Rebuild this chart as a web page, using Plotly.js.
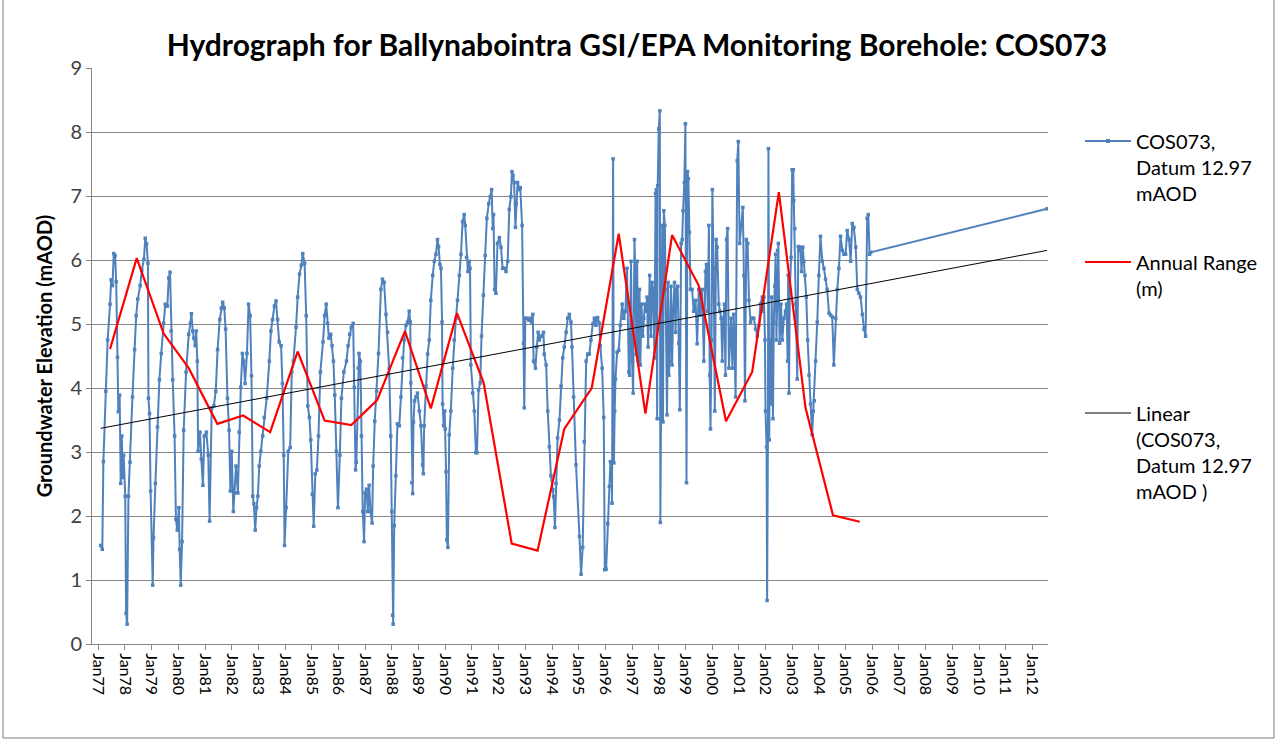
<!DOCTYPE html>
<html>
<head>
<meta charset="utf-8">
<script src="https://cdn.plot.ly/plotly-3.0.1.min.js"></script>
<style>
  html, body { margin: 0; padding: 0; background: #ffffff; }
  #chart { width: 1279px; height: 742px; }
</style>
</head>
<body>
<div id="chart"></div>
<script>
// ---------------- DATA (decimal year, groundwater level mAOD) ----------------
const obs1977to1987 = [
  [1977.09,1.54],[1977.15,1.48],[1977.19,2.85],[1977.28,3.95],[1977.35,4.75],[1977.44,5.31],[1977.48,5.69],[1977.53,5.60],
  [1977.58,6.10],[1977.63,6.07],[1977.67,5.66],[1977.72,4.48],[1977.75,3.63],[1977.80,3.89],[1977.84,2.51],[1977.88,3.25],
  [1977.92,2.60],[1977.95,2.95],[1978.01,2.31],[1978.04,0.48],[1978.08,0.31],[1978.13,2.31],[1978.19,2.84],[1978.28,3.86],
  [1978.36,4.60],[1978.42,5.13],[1978.48,5.39],[1978.57,5.60],[1978.63,5.84],[1978.71,6.01],[1978.76,6.34],[1978.81,6.25],
  [1978.86,5.95],[1978.88,3.84],[1978.92,3.60],[1978.96,2.39],[1979.04,0.92],[1979.07,1.66],[1979.14,2.51],[1979.22,3.39],
  [1979.29,4.13],[1979.36,4.54],[1979.45,5.01],[1979.51,5.31],[1979.59,5.28],[1979.64,5.72],[1979.69,5.81],[1979.73,4.89],
  [1979.79,4.13],[1979.86,3.25],[1979.91,1.95],[1979.96,1.78],[1980.02,2.13],[1980.05,1.48],[1980.09,0.92],[1980.14,1.60],
  [1980.20,3.34],[1980.29,4.25],[1980.39,4.84],[1980.45,5.01],[1980.49,5.16],[1980.54,4.89],[1980.58,4.78],[1980.63,4.66],
  [1980.67,4.89],[1980.71,4.42],[1980.74,3.01],[1980.81,3.31],[1980.86,2.89],[1980.92,2.48],[1980.97,3.25],[1981.05,3.31],
  [1981.12,2.95],[1981.17,1.92],[1981.25,3.69],[1981.33,3.72],[1981.40,3.95],[1981.47,4.60],[1981.55,5.07],[1981.61,5.25],
  [1981.66,5.34],[1981.72,5.25],[1981.77,4.92],[1981.84,3.84],[1981.90,3.34],[1981.95,2.39],[1982.00,3.01],[1982.06,2.07],
  [1982.11,2.36],[1982.16,2.78],[1982.23,2.36],[1982.28,3.31],[1982.34,4.01],[1982.40,4.54],[1982.45,4.42],[1982.50,4.07],
  [1982.57,4.54],[1982.63,5.31],[1982.69,5.13],[1982.74,4.19],[1982.79,2.31],[1982.83,2.19],[1982.88,1.78],[1982.93,2.13],
  [1982.98,2.31],[1983.03,2.78],[1983.09,3.01],[1983.16,3.25],[1983.22,3.54],[1983.31,3.84],[1983.41,4.42],[1983.47,4.89],
  [1983.53,5.07],[1983.60,5.28],[1983.66,5.36],[1983.72,5.07],[1983.78,4.72],[1983.85,4.66],[1983.90,4.07],[1983.95,2.95],
  [1983.98,1.54],[1984.04,2.13],[1984.12,3.01],[1984.19,3.07],[1984.25,4.25],[1984.31,4.42],[1984.41,4.95],[1984.47,5.42],
  [1984.54,5.78],[1984.61,5.92],[1984.66,6.10],[1984.73,5.95],[1984.79,5.13],[1984.85,3.72],[1984.91,3.54],[1984.96,3.19],
  [1985.02,2.34],[1985.07,1.84],[1985.13,2.66],[1985.19,2.72],[1985.25,3.25],[1985.32,4.25],[1985.42,4.72],[1985.48,5.13],
  [1985.54,5.31],[1985.59,5.01],[1985.64,4.78],[1985.71,4.84],[1985.76,4.66],[1985.81,4.42],[1985.86,3.89],[1985.92,3.01],
  [1985.98,2.13],[1986.05,2.95],[1986.11,3.84],[1986.20,4.25],[1986.30,4.42],[1986.36,4.66],[1986.42,4.84],[1986.48,4.95],
  [1986.55,5.01],[1986.59,4.01],[1986.64,2.72],[1986.67,2.84],[1986.74,4.31],[1986.77,4.54],[1986.82,4.42],[1986.86,3.25],
  [1986.91,2.07],[1986.96,1.60],[1987.00,2.36],[1987.05,2.42],[1987.10,2.07],[1987.15,2.48],[1987.20,2.07],[1987.26,1.89],
  [1987.30,2.78],[1987.36,3.48],[1987.43,3.95],[1987.50,4.54]
];
const obs1987to1995 = [
  [1987.59,5.54],[1987.65,5.70],[1987.71,5.65],[1987.78,5.15],[1987.84,4.87],[1987.90,4.31],[1987.96,3.25],[1988.00,2.07],
  [1988.03,0.45],[1988.05,0.31],[1988.09,1.85],[1988.15,2.63],[1988.21,3.44],[1988.28,3.41],[1988.34,3.86],[1988.40,4.47],
  [1988.46,4.75],[1988.53,4.98],[1988.59,5.03],[1988.65,5.20],[1988.69,5.03],[1988.71,4.08],[1988.75,2.52],[1988.78,2.35],
  [1988.81,3.47],[1988.85,3.80],[1988.90,3.86],[1988.96,3.92],[1989.03,3.64],[1989.09,3.41],[1989.15,2.80],[1989.18,2.66],
  [1989.21,3.41],[1989.28,4.03],[1989.34,4.53],[1989.40,4.75],[1989.46,5.37],[1989.53,5.76],[1989.59,5.98],[1989.65,6.09],
  [1989.71,6.32],[1989.75,6.21],[1989.80,5.93],[1989.84,5.87],[1989.88,5.03],[1989.90,3.75],[1989.94,3.41],[1989.98,3.64],
  [1990.00,3.36],[1990.03,2.69],[1990.06,1.63],[1990.10,1.51],[1990.15,3.27],[1990.21,3.64],[1990.28,4.31],[1990.34,4.75],
  [1990.40,5.09],[1990.46,5.37],[1990.53,5.76],[1990.59,6.09],[1990.65,6.60],[1990.71,6.71],[1990.75,6.54],[1990.80,6.04],
  [1990.85,5.82],[1990.90,5.98],[1990.93,5.87],[1990.96,4.36],[1991.03,3.92],[1991.09,3.64],[1991.15,2.99],[1991.19,2.99],
  [1991.25,3.97],[1991.31,4.08],[1991.36,4.81],[1991.43,5.45],[1991.50,6.07],[1991.56,6.65],[1991.63,6.88],[1991.69,6.99],
  [1991.74,7.10],[1991.78,6.49],[1991.81,6.71],[1991.85,5.54],[1991.90,5.48],[1991.96,6.26],[1992.03,6.35],[1992.09,6.20],
  [1992.15,5.87],[1992.21,5.87],[1992.28,5.82],[1992.34,5.98],[1992.40,6.79],[1992.46,6.99],[1992.50,7.38],[1992.54,7.32],
  [1992.58,7.21],[1992.63,6.51],[1992.66,6.88],[1992.71,7.21],[1992.78,7.10],[1992.81,7.13],[1992.88,6.54],[1992.93,4.70],
  [1992.96,3.69],[1993.00,5.09],[1993.06,5.09],[1993.13,5.06],[1993.18,5.09],[1993.23,5.03],[1993.28,5.15],[1993.31,4.42],
  [1993.38,4.31],[1993.43,4.64],[1993.48,4.87],[1993.53,4.75],[1993.58,4.81],[1993.63,4.81],[1993.68,4.87],[1993.71,4.53],
  [1993.78,4.36],[1993.84,3.64],[1993.90,3.08],[1993.96,2.63],[1994.03,2.41],[1994.06,2.30],[1994.11,1.82],[1994.15,2.51],
  [1994.21,3.22],[1994.28,3.50],[1994.34,4.03],[1994.40,4.47],[1994.46,4.64],[1994.53,4.87],[1994.59,5.09],[1994.65,5.15],
  [1994.71,5.03],[1994.75,4.64],[1994.81,3.86],[1994.90,2.80],[1995.03,1.68],[1995.09,1.09],[1995.15,1.51],[1995.21,3.16],
  [1995.28,4.42],[1995.34,4.53],[1995.40,4.53],[1995.46,4.75],[1995.53,5.00],[1995.59,5.09],[1995.65,4.98],[1995.71,5.10],
  [1995.78,5.01],[1995.81,4.66],[1995.88,4.31],[1995.94,3.54],[1995.98,1.16]
];
const obs1996to2000 = [
  [1996.03,1.17],[1996.09,1.88],[1996.15,2.46],[1996.19,2.85],[1996.23,2.83],[1996.25,2.20],[1996.29,7.58],[1996.32,2.83],
  [1996.35,3.64],[1996.38,4.14],[1996.44,4.56],[1996.50,4.59],[1996.56,4.98],[1996.63,5.31],[1996.69,5.09],[1996.75,5.20],
  [1996.81,5.87],[1996.88,4.25],[1996.91,4.20],[1996.96,5.98],[1997.00,4.42],[1997.04,3.92],[1997.09,6.32],[1997.13,5.59],
  [1997.16,4.53],[1997.19,5.98],[1997.23,4.42],[1997.28,5.54],[1997.31,4.36],[1997.35,5.31],[1997.40,4.81],[1997.44,5.09],
  [1997.48,5.31],[1997.53,5.20],[1997.56,5.42],[1997.60,4.64],[1997.66,5.76],[1997.71,4.81],[1997.75,5.65],[1997.79,5.54],
  [1997.84,4.47],[1997.88,7.04],[1997.91,7.10],[1997.94,3.52],[1997.96,7.16],[1998.00,8.05],[1998.04,8.33],[1998.06,1.90],
  [1998.09,3.52],[1998.13,6.54],[1998.16,3.47],[1998.19,6.77],[1998.23,6.54],[1998.26,5.54],[1998.31,3.58],[1998.35,5.65],
  [1998.38,4.20],[1998.41,4.42],[1998.46,5.59],[1998.50,4.36],[1998.54,5.20],[1998.59,5.65],[1998.63,4.87],[1998.66,5.54],
  [1998.71,5.59],[1998.75,4.70],[1998.79,3.66],[1998.84,6.26],[1998.88,6.32],[1998.91,6.77],[1998.96,7.21],[1999.00,8.13],
  [1999.04,2.52],[1999.08,7.38],[1999.11,7.27],[1999.15,6.43],[1999.19,5.54],[1999.25,5.54],[1999.31,5.20],[1999.38,5.37],
  [1999.44,4.69],[1999.50,5.54],[1999.56,5.14],[1999.63,5.54],[1999.69,4.42],[1999.75,5.82],[1999.79,5.93],[1999.84,5.20],
  [1999.88,6.54],[1999.91,4.20],[1999.94,3.36],[1999.98,4.75],[2000.01,7.10],[2000.06,5.87],[2000.10,3.64],[2000.15,6.32],
  [2000.19,6.20],[2000.25,5.31],[2000.29,5.20],[2000.34,5.09],[2000.38,4.42],[2000.41,4.98],[2000.46,5.31],[2000.50,4.20],
  [2000.54,6.32],[2000.58,6.49],[2000.63,4.31],[2000.66,4.75],[2000.71,5.09],[2000.76,4.31],[2000.81,5.15],[2000.88,3.86],
  [2000.94,7.55],[2000.98,7.85],[2001.03,6.26]
];
const obs2001to2012 = [
  [2001.15,6.82],[2001.19,5.76],[2001.23,3.80],[2001.28,6.32],[2001.33,6.26],[2001.38,5.37],[2001.44,5.03],[2001.50,5.09],
  [2001.56,5.09],[2001.63,4.92],[2001.69,4.81],[2001.75,4.98],[2001.81,5.31],[2001.88,5.42],[2001.91,5.20],[2001.94,5.42],
  [2001.98,4.75],[2002.00,3.64],[2002.04,3.08],[2002.06,0.68],[2002.09,3.19],[2002.11,7.74],[2002.14,3.19],[2002.16,4.75],
  [2002.20,3.75],[2002.23,5.42],[2002.28,3.52],[2002.31,5.03],[2002.35,5.59],[2002.38,6.09],[2002.41,4.75],[2002.45,6.15],
  [2002.48,6.26],[2002.53,4.70],[2002.58,5.31],[2002.63,4.75],[2002.69,5.09],[2002.75,5.20],[2002.79,5.31],[2002.83,4.42],
  [2002.85,5.76],[2002.88,3.92],[2002.91,5.54],[2002.96,6.04],[2003.00,7.41],[2003.04,7.41],[2003.06,6.93],[2003.10,6.49],
  [2003.14,5.31],[2003.19,4.14],[2003.23,6.21],[2003.26,6.15],[2003.31,6.20],[2003.35,5.82],[2003.40,6.20],[2003.44,5.98],
  [2003.48,5.76],[2003.53,5.42],[2003.58,4.75],[2003.63,4.20],[2003.69,3.75],[2003.75,3.27],[2003.79,3.64],[2003.83,3.80],
  [2003.88,4.42],[2003.94,5.03],[2004.00,5.76],[2004.06,6.37],[2004.13,5.98],[2004.19,5.87],[2004.25,5.70],[2004.31,5.54],
  [2004.38,5.17],[2004.44,5.14],[2004.50,5.11],[2004.56,4.36],[2004.63,5.09],[2004.69,5.54],[2004.75,5.87],[2004.81,6.37],
  [2004.88,6.15],[2004.94,6.09],[2005.00,6.09],[2005.06,6.46],[2005.13,6.32],[2005.19,5.98],[2005.25,6.57],[2005.31,6.51],
  [2005.38,6.20],[2005.44,5.54],[2005.50,5.48],[2005.56,5.42],[2005.63,5.15],[2005.69,4.92],[2005.75,4.81],[2005.81,6.65],
  [2005.85,6.71],[2005.90,6.09],[2005.94,6.12],[2012.55,6.80]
];
// Annual range (m)
const rangeYears  = [1977.44,1978.44,1979.45,1980.39,1981.46,1982.43,1983.44,1984.47,1985.48,1986.48,1987.45,1988.49,1989.46,1990.44,1991.44,
                     1992.49,1993.46,1994.46,1995.49,1996.50,1997.50,1998.50,1999.50,2000.52,2001.50,2002.50,2003.50,2004.53,2005.53];
const rangeValues = [4.61,6.03,4.85,4.31,3.44,3.57,3.31,4.57,3.49,3.42,3.81,4.89,3.68,5.17,4.08,
                     1.57,1.46,3.36,4.00,6.41,3.60,6.39,5.60,3.48,4.25,7.06,3.69,2.01,1.91];
// Linear trend line (end points)
const trendYears  = [1977.09, 2012.55];
const trendValues = [3.37, 6.15];
// Axis / text
const chartTitle = 'Hydrograph for Ballynabointra GSI/EPA Monitoring Borehole: COS073';
const yTitle = 'Groundwater Elevation (mAOD)';
const legendLabels = ['COS073,<br>Datum 12.97<br>mAOD', 'Annual Range<br>(m)', 'Linear<br>(COS073,<br>Datum 12.97<br>mAOD )'];
const xRangeYears = [1976.764, 2012.585];

// ---------------- helpers ----------------
function toDate(y) {
  const yr = Math.floor(y);
  const s = Date.UTC(yr, 0, 1), e = Date.UTC(yr + 1, 0, 1);
  return new Date(s + (y - yr) * (e - s)).toISOString().slice(0, 19).replace('T', ' ');
}
const obsAll = obs1977to1987.concat(obs1987to1995, obs1996to2000, obs2001to2012);

const BLUE = '#4F81BD', RED = '#FF0000';
const FONT = 'Lato, "Open Sans", "Liberation Sans", sans-serif';

const traces = [
  {
    type: 'scatter', mode: 'lines+markers', name: 'COS073, Datum 12.97 mAOD',
    x: obsAll.map(p => toDate(p[0])), y: obsAll.map(p => p[1]),
    line: { color: BLUE, width: 2 },
    marker: { symbol: 'square', size: 3.5, color: BLUE },
    showlegend: false, hoverinfo: 'x+y'
  },
  {
    type: 'scatter', mode: 'lines', name: 'Annual Range (m)',
    x: rangeYears.map(toDate), y: rangeValues,
    line: { color: RED, width: 2.2 }, showlegend: false
  },
  {
    type: 'scatter', mode: 'lines', name: 'Linear (COS073, Datum 12.97 mAOD )',
    x: trendYears.map(toDate), y: trendValues,
    line: { color: '#000000', width: 1 }, showlegend: false
  }
];

// pixel -> paper helpers for the hand-drawn legend and frame
const L = 92, R = 1048, T = 68, B = 644;
const px = x => (x - L) / (R - L);
const py = y => (B - y) / (B - T);

const legendRows = [141, 262, 413];
const legendColors = [BLUE, RED, '#000000'];
const legendWidths = [2, 2.2, 1];

const shapes = [
  { type: 'rect', xref: 'paper', yref: 'paper', x0: px(3), x1: px(1274), y0: py(738), y1: py(-2),
    line: { color: '#7f7f7f', width: 1 }, fillcolor: 'rgba(0,0,0,0)', layer: 'below' }
];
legendRows.forEach((yy, i) => {
  shapes.push({ type: 'line', xref: 'paper', yref: 'paper', x0: px(1085), x1: px(1131), y0: py(yy), y1: py(yy),
    line: { color: legendColors[i], width: legendWidths[i] } });
});
shapes.push({ type: 'rect', xref: 'paper', yref: 'paper', x0: px(1106), x1: px(1110), y0: py(143), y1: py(139),
  line: { color: BLUE, width: 0 }, fillcolor: BLUE });

const annotations = legendLabels.map((t, i) => ({
  xref: 'paper', yref: 'paper', x: px(1134), y: py(legendRows[i] - 14),
  xanchor: 'left', yanchor: 'top', align: 'left', showarrow: false,
  text: t, font: { family: FONT, size: 20, color: '#000000' }
}));

const layout = {
  width: 1279, height: 742,
  paper_bgcolor: '#ffffff', plot_bgcolor: '#ffffff',
  margin: { l: L, r: 1279 - R, t: T, b: 742 - B, pad: 0 },
  font: { family: FONT, color: '#000000' },
  title: { text: '<b>' + chartTitle + '</b>', xref: 'container', yref: 'container',
           x: 0.498, xanchor: 'center', y: 1 - 45 / 742, yanchor: 'middle',
           font: { family: FONT, size: 30, color: '#000000' } },
  showlegend: false,
  xaxis: {
    type: 'date', range: xRangeYears.map(toDate), autorange: false,
    tick0: '1977-01-01', dtick: 'M12', tickformat: '%b%y', tickangle: 90,
    ticks: 'outside', ticklen: 5, tickcolor: '#868686', tickwidth: 1,
    showline: true, linecolor: '#868686', linewidth: 1, showgrid: false, zeroline: false,
    tickfont: { family: FONT, size: 16, color: '#000000' }, automargin: false
  },
  yaxis: {
    range: [0, 9], autorange: false, dtick: 1, tick0: 0,
    ticks: 'outside', ticklen: 5, tickcolor: '#868686',
    showline: true, linecolor: '#868686', linewidth: 1,
    showgrid: true, gridcolor: '#868686', gridwidth: 1, zeroline: false,
    tickfont: { family: FONT, size: 20, color: '#404040' },
    title: { text: '<b>' + yTitle + '</b>', standoff: 12, font: { family: FONT, size: 20, color: '#000000' } },
    automargin: false
  },
  shapes: shapes,
  annotations: annotations
};

Plotly.newPlot('chart', traces, layout, { displayModeBar: false, staticPlot: true });
</script>
</body>
</html>
